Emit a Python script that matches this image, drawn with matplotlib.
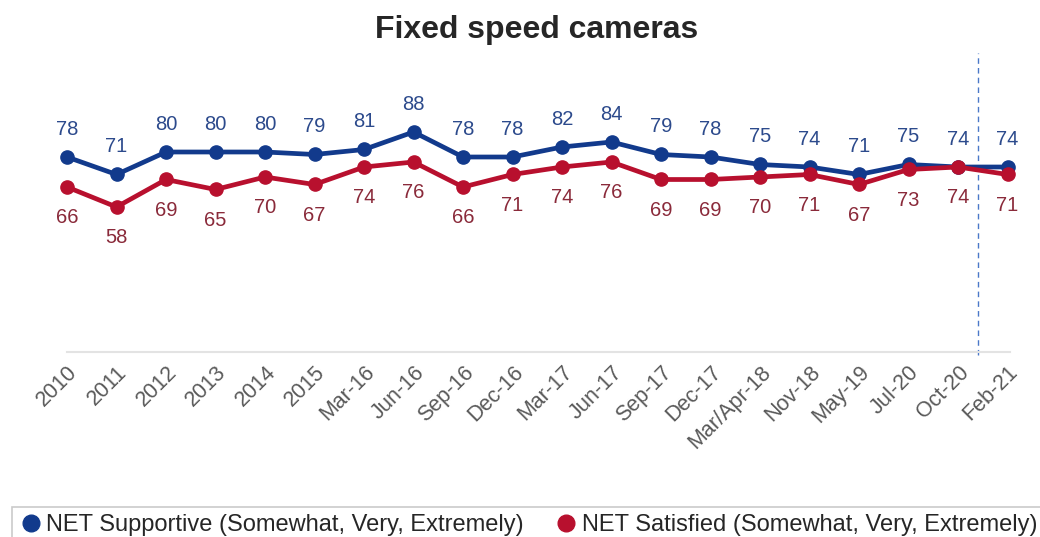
import matplotlib
matplotlib.use("Agg")
import matplotlib.pyplot as plt
from matplotlib.lines import Line2D

# Survey waves and NET results (%)
waves = ["2010", "2011", "2012", "2013", "2014", "2015", "Mar-16", "Jun-16",
         "Sep-16", "Dec-16", "Mar-17", "Jun-17", "Sep-17", "Dec-17",
         "Mar/Apr-18", "Nov-18", "May-19", "Jul-20", "Oct-20", "Feb-21"]
supportive = [78, 71, 80, 80, 80, 79, 81, 88, 78, 78, 82, 84, 79, 78, 75, 74, 71, 75, 74, 74]
satisfied = [66, 58, 69, 65, 70, 67, 74, 76, 66, 71, 74, 76, 69, 69, 70, 71, 67, 73, 74, 71]

title = "Fixed speed cameras"
label_supportive = "NET Supportive (Somewhat, Very, Extremely)"
label_satisfied = "NET Satisfied (Somewhat, Very, Extremely)"

BLUE = "#123a8c"
RED = "#b8102e"
BLUE_TXT = "#2c4a8c"
RED_TXT = "#8a2a3a"
GREY_TXT = "#595959"

plt.rcParams["font.family"] = ["Liberation Sans", "DejaVu Sans"]

W, H = 1040, 537
fig = plt.figure(figsize=(W / 100, H / 100), dpi=100)
ax = fig.add_axes([67 / W, (H - 352) / H, (1010 - 67) / W, 250 / H])

x = list(range(len(waves)))
ax.plot(x, supportive, color=BLUE, lw=3.4, marker="o", ms=9.5, zorder=3, clip_on=False)
ax.plot(x, satisfied, color=RED, lw=3.4, marker="o", ms=9.5, zorder=3, clip_on=False)

for xi, v in zip(x, supportive):
    ax.annotate(str(v), (xi, v), xytext=(0, 20), textcoords="offset points",
                ha="center", va="center", fontsize=14.5, color=BLUE_TXT)
for xi, v in zip(x, satisfied):
    ax.annotate(str(v), (xi, v), xytext=(0, -22), textcoords="offset points",
                ha="center", va="center", fontsize=14.5, color=RED_TXT)

ax.set_xlim(0, len(waves) - 1 + 0.05)
ax.set_ylim(0, 100)
ax.set_yticks([])
ax.set_xticks(x)
ax.set_xticklabels(waves, rotation=45, ha="right", rotation_mode="anchor",
                   fontsize=15.5, color=GREY_TXT)
ax.tick_params(axis="x", length=0, pad=7)
for side in ["top", "right", "left"]:
    ax.spines[side].set_visible(False)
ax.spines["bottom"].set_color("#e3e3e3")
ax.spines["bottom"].set_linewidth(1.5)

# dashed divider between the last two waves
ax.plot([18.4, 18.4], [-1, 119.5], color="#4a78c8", lw=1, ls=(0, (4, 3)),
        clip_on=False, zorder=1)

fig.text(537 / W, 1 - 30 / H, title, ha="center", va="center",
         fontsize=23, fontweight="bold", color="#262626")

handles = [
    Line2D([], [], ls="none", marker="o", ms=12, color=BLUE),
    Line2D([], [], ls="none", marker="o", ms=12, color=RED),
]
leg = fig.legend(handles, [label_supportive, label_satisfied], ncol=2,
                 loc="lower left", bbox_to_anchor=(12 / W, -6 / H),
                 frameon=True, fancybox=False, fontsize=17,
                 handletextpad=0.15, columnspacing=1.3, handlelength=1.0,
                 borderpad=0.3, borderaxespad=0)
leg.get_frame().set_edgecolor("#bdbdbd")
leg.get_frame().set_linewidth(1.2)
for t in leg.get_texts():
    t.set_color("#262626")

fig.savefig("out.png", dpi=100)
